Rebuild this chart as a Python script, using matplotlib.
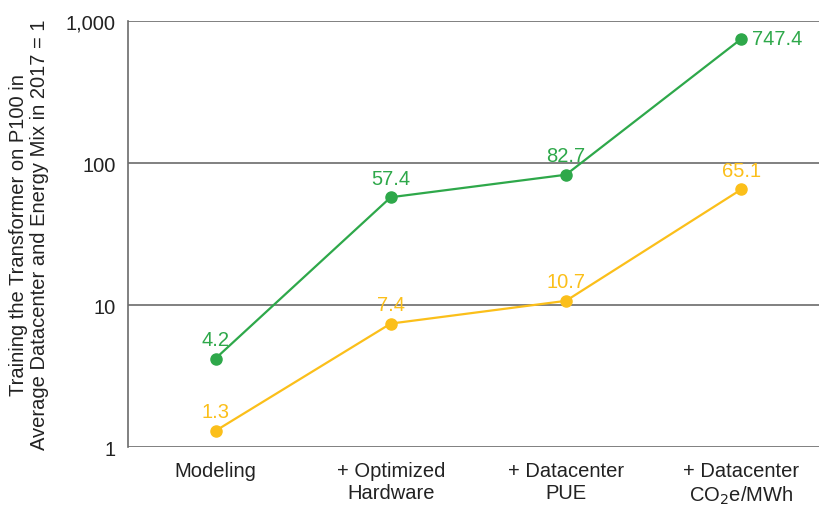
import matplotlib
matplotlib.use("Agg")
import matplotlib.pyplot as plt

plt.rcParams["font.family"] = ["Liberation Sans", "DejaVu Sans"]

CATEGORIES = ["Modeling", "+ Optimized\nHardware", "+ Datacenter\nPUE", "+ Datacenter\nCO$_2$e/MWh"]
GREEN_VALS = [4.2, 57.4, 82.7, 747.4]
YELLOW_VALS = [1.3, 7.4, 10.7, 65.1]
Y_TICKS = [1, 10, 100, 1000]
Y_TICK_LABELS = ["1", "10", "100", "1,000"]

GREEN = "#2ea84a"
YELLOW = "#fbbf1a"
GRID = "#6b6b6b"
FS = 14.5

fig = plt.figure(figsize=(8.2, 5.06), dpi=100)
ax = fig.add_axes([0.156, 0.1146, 0.844, 0.8419])

x = list(range(len(CATEGORIES)))
ax.plot(x, GREEN_VALS, "o-", color=GREEN, linewidth=1.6, markersize=8, zorder=3)
ax.plot(x, YELLOW_VALS, "o-", color=YELLOW, linewidth=1.6, markersize=8, zorder=3)

for i, v in enumerate(GREEN_VALS):
    if i == len(GREEN_VALS) - 1:
        ax.annotate(f"{v:.1f}", (i, v), xytext=(8, 0), textcoords="offset points",
                    ha="left", va="center", color=GREEN, fontsize=FS)
    else:
        ax.annotate(f"{v:.1f}", (i, v), xytext=(0, 7), textcoords="offset points",
                    ha="center", va="bottom", color=GREEN, fontsize=FS)
for i, v in enumerate(YELLOW_VALS):
    ax.annotate(f"{v:.1f}", (i, v), xytext=(0, 7), textcoords="offset points",
                ha="center", va="bottom", color=YELLOW, fontsize=FS)

ax.set_yscale("log")
ax.set_ylim(1, 1000)
ax.set_xlim(-0.5, 3.45)
ax.set_yticks(Y_TICKS)
ax.set_yticklabels(Y_TICK_LABELS)
ax.minorticks_off()
ax.set_xticks(x)
ax.set_xticklabels(CATEGORIES)
ax.tick_params(axis="both", length=0, labelsize=FS, colors="#222222", pad=9)
ax.tick_params(axis="x", pad=10)

for yt in Y_TICKS:
    ax.axhline(yt, color=GRID, linewidth=1.2, zorder=1)
for side in ["top", "right", "bottom"]:
    ax.spines[side].set_visible(False)
ax.spines["left"].set_color(GRID)
ax.spines["left"].set_linewidth(1.2)

ax.set_ylabel("Training the Transformer on P100 in\nAverage Datacenter and Energy Mix in 2017 = 1",
              fontsize=FS, color="#222222", labelpad=12, linespacing=1.15)

fig.savefig("out.png", dpi=100)
